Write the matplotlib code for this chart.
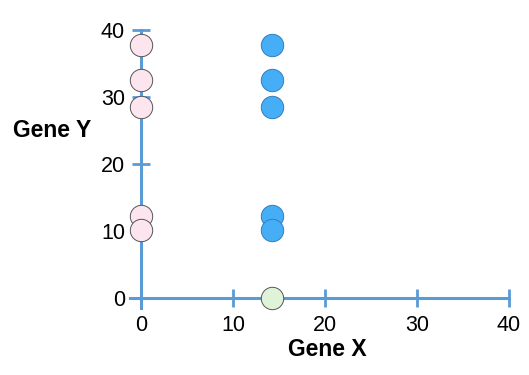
import matplotlib.pyplot as plt

# data
pink_x = [0, 0, 0, 0, 0]
pink_y = [37.8, 32.5, 28.5, 12.3, 10.2]
blue_x = [14.2, 14.2, 14.2, 14.2, 14.2]
blue_y = [37.8, 32.5, 28.5, 12.3, 10.2]
green_x = [14.2]
green_y = [0]
ticks = [0, 10, 20, 30, 40]

axis_col = '#5b9bd5'
plt.rcParams['font.family'] = ['Liberation Sans', 'DejaVu Sans']

fig = plt.figure(figsize=(5.29, 3.75), dpi=100)
ax = fig.add_axes([0.2318, 0.1517, 0.7478, 0.795])
ax.set_xlim(-2, 41)
ax.set_ylim(-3, 41.5)

for s in ['top', 'right']:
    ax.spines[s].set_visible(False)
ax.spines['left'].set_position(('data', 0))
ax.spines['bottom'].set_position(('data', 0))
ax.spines['left'].set_bounds(-1.5, 40)
ax.spines['bottom'].set_bounds(-1.2, 40)
for s in ['left', 'bottom']:
    ax.spines[s].set_color(axis_col)
    ax.spines[s].set_linewidth(2.2)

ax.set_xticks(ticks)
ax.set_yticks(ticks)
ax.tick_params(direction='inout', length=13, width=2, color=axis_col,
               labelsize=15.5, colors='black')
ax.tick_params(axis='x', pad=6)
ax.tick_params(axis='y', pad=5)
for t in ax.xaxis.get_major_ticks() + ax.yaxis.get_major_ticks():
    t.tick1line.set_color(axis_col)

ax.scatter(pink_x, pink_y, s=260, c='#fde5f0', edgecolors='#555555',
           linewidths=0.7, zorder=5, clip_on=False)
ax.scatter(blue_x, blue_y, s=260, c='#45aef7', edgecolors='#2f7fc0',
           linewidths=0.7, zorder=5, clip_on=False)
ax.scatter(green_x, green_y, s=260, c='#dff3d9', edgecolors='#555555',
           linewidths=0.7, zorder=5, clip_on=False)

fig.text(0.098, 0.653, 'Gene Y', fontsize=16.5, fontweight='bold',
         ha='center', va='center')
fig.text(0.618, 0.067, 'Gene X', fontsize=16.5, fontweight='bold',
         ha='center', va='center')

fig.savefig('out.png', dpi=100)
